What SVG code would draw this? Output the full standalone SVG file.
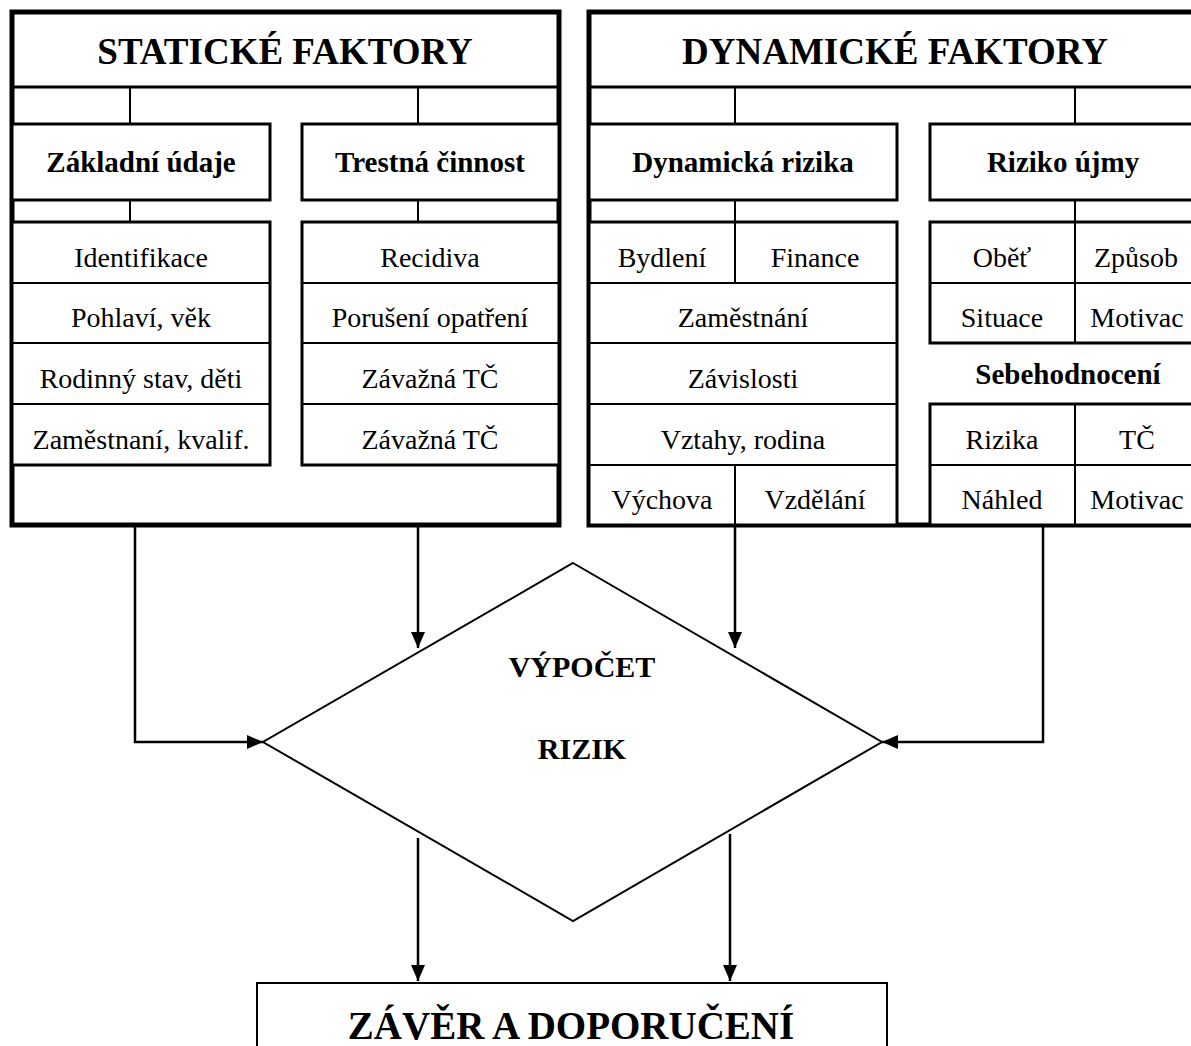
<svg xmlns="http://www.w3.org/2000/svg" width="1191" height="1046" viewBox="0 0 1191 1046">
<defs>
<style>
.panel{fill:#fff;stroke:#000;stroke-width:5}
.box{fill:#fff;stroke:#000;stroke-width:3}
.thin{fill:none;stroke:#000;stroke-width:2}
.conn{fill:none;stroke:#000;stroke-width:2.5}
text{font-family:'Liberation Serif','Times New Roman','DejaVu Serif',serif;text-anchor:middle;fill:#000}
.title{font-weight:bold;font-size:37px}
.sub{font-weight:bold;font-size:29px}
.item{font-size:28px}
.big{font-weight:bold;font-size:39px}
.dia{font-weight:bold;font-size:30px}
</style>
<marker id="arr" markerUnits="userSpaceOnUse" markerWidth="16" markerHeight="16" viewBox="0 0 16 16" refX="16" refY="8" orient="auto">
<path d="M0,1 L16,8 L0,15 Z" fill="#000"/>
</marker>
</defs>

<g id="static">
<rect class="panel" x="12" y="12" width="547" height="513"/>
<line class="box" x1="12" y1="87" x2="559" y2="87"/>
<text class="title" x="285" y="64">STATICKÉ FAKTORY</text>
<line class="thin" x1="130" y1="87" x2="130" y2="124"/>
<line class="thin" x1="418" y1="87" x2="418" y2="124"/>
<rect class="box" x="12" y="124" width="258" height="76"/>
<text class="sub" x="141" y="172">Základní údaje</text>
<rect class="box" x="302" y="124" width="257" height="76"/>
<text class="sub" x="430" y="172">Trestná činnost</text>
<line class="thin" x1="130" y1="200" x2="130" y2="222"/>
<line class="thin" x1="418" y1="200" x2="418" y2="222"/>
<rect class="box" x="12" y="222" width="258" height="243"/>
<line class="thin" x1="12" y1="283" x2="270" y2="283"/>
<line class="thin" x1="12" y1="343" x2="270" y2="343"/>
<line class="thin" x1="12" y1="404" x2="270" y2="404"/>
<text class="item" x="141" y="267">Identifikace</text>
<text class="item" x="141" y="327">Pohlaví, věk</text>
<text class="item" x="141" y="388">Rodinný stav, děti</text>
<text class="item" x="141" y="449">Zaměstnaní, kvalif.</text>
<rect class="box" x="302" y="222" width="257" height="243"/>
<line class="thin" x1="302" y1="283" x2="559" y2="283"/>
<line class="thin" x1="302" y1="343" x2="559" y2="343"/>
<line class="thin" x1="302" y1="404" x2="559" y2="404"/>
<text class="item" x="430" y="267">Recidiva</text>
<text class="item" x="430" y="327">Porušení opatření</text>
<text class="item" x="430" y="388">Závažná TČ</text>
<text class="item" x="430" y="449">Závažná TČ</text>
</g>

<g id="dynamic">
<rect class="panel" x="589" y="12" width="620" height="513"/>
<line class="box" x1="589" y1="87" x2="1209" y2="87"/>
<text class="title" x="895" y="64">DYNAMICKÉ FAKTORY</text>
<line class="thin" x1="735" y1="87" x2="735" y2="124"/>
<line class="thin" x1="1075" y1="87" x2="1075" y2="124"/>
<rect class="box" x="589" y="124" width="308" height="76"/>
<text class="sub" x="743" y="172">Dynamická rizika</text>
<rect class="box" x="930" y="124" width="279" height="76"/>
<text class="sub" x="1063" y="172">Riziko újmy</text>
<line class="thin" x1="735" y1="200" x2="735" y2="222"/>
<line class="thin" x1="1075" y1="200" x2="1075" y2="222"/>
<rect class="box" x="589" y="222" width="308" height="303"/>
<line class="thin" x1="589" y1="283" x2="897" y2="283"/>
<line class="thin" x1="589" y1="343" x2="897" y2="343"/>
<line class="thin" x1="589" y1="404" x2="897" y2="404"/>
<line class="thin" x1="589" y1="465" x2="897" y2="465"/>
<line class="thin" x1="735" y1="222" x2="735" y2="283"/>
<line class="thin" x1="735" y1="465" x2="735" y2="525"/>
<text class="item" x="662" y="267">Bydlení</text>
<text class="item" x="815" y="267">Finance</text>
<text class="item" x="743" y="327">Zaměstnání</text>
<text class="item" x="743" y="388">Závislosti</text>
<text class="item" x="743" y="449">Vztahy, rodina</text>
<text class="item" x="662" y="509">Výchova</text>
<text class="item" x="815" y="509">Vzdělání</text>
<rect class="box" x="930" y="222" width="279" height="121"/>
<line class="thin" x1="930" y1="283" x2="1209" y2="283"/>
<line class="thin" x1="1075" y1="222" x2="1075" y2="343"/>
<text class="item" x="1002" y="267">Oběť</text>
<text class="item" x="1136" y="267">Způsob</text>
<text class="item" x="1002" y="327">Situace</text>
<text class="item" x="1137" y="327">Motivac</text>
<text class="sub" x="1068" y="384">Sebehodnocení</text>
<rect class="box" x="930" y="404" width="279" height="121"/>
<line class="thin" x1="930" y1="465" x2="1209" y2="465"/>
<line class="thin" x1="1075" y1="404" x2="1075" y2="525"/>
<text class="item" x="1002" y="449">Rizika</text>
<text class="item" x="1137" y="449">TČ</text>
<text class="item" x="1002" y="509">Náhled</text>
<text class="item" x="1137" y="509">Motivac</text>
</g>

<g id="calc">
<polygon class="thin" points="573,563 882,742 573,921 263,742" fill="#fff"/>
<text class="dia" x="582" y="677">VÝPOČET</text>
<text class="dia" x="582" y="759">RIZIK</text>
</g>

<g id="result">
<rect class="thin" x="257" y="983" width="630" height="80" fill="#fff"/>
<text class="big" x="571" y="1039">ZÁVĚR A DOPORUČENÍ</text>
</g>

<g id="connectors">
<path class="conn" d="M135,527 V742 H263" marker-end="url(#arr)"/>
<path class="conn" d="M418,527 V648" marker-end="url(#arr)"/>
<path class="conn" d="M735,527 V648" marker-end="url(#arr)"/>
<path class="conn" d="M1043,527 V742 H882" marker-end="url(#arr)"/>
<path class="conn" d="M418,838 V981" marker-end="url(#arr)"/>
<path class="conn" d="M730,834 V981" marker-end="url(#arr)"/>
</g>
</svg>
